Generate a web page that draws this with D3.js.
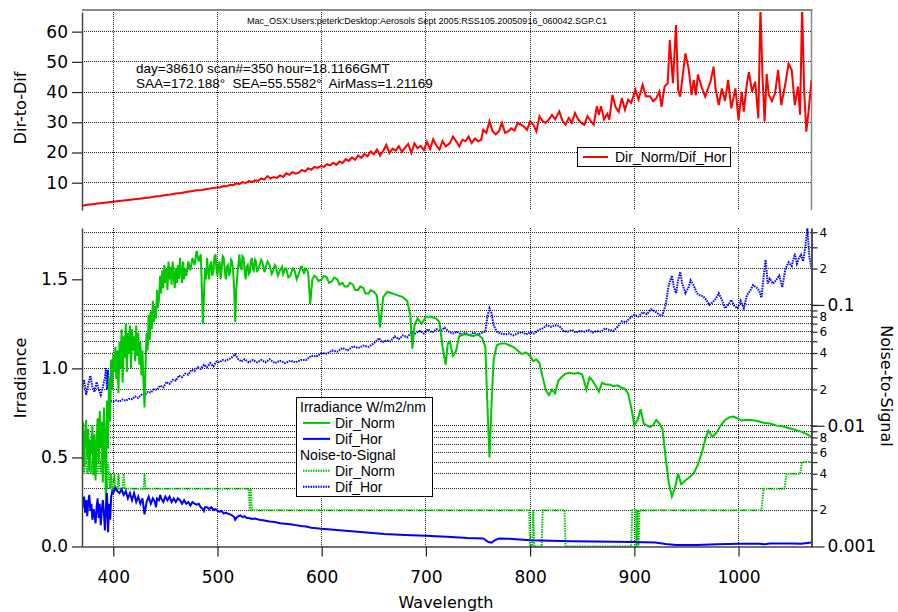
<!DOCTYPE html>
<html>
<head>
<meta charset="utf-8">
<script src="https://cdnjs.cloudflare.com/ajax/libs/d3/7.8.5/d3.min.js"></script>
<style>
  body { margin: 0; background: #fff; }
  svg text { font-family: "DejaVu Sans", sans-serif; fill: #000; }
  .small { font-family: "Liberation Sans", Arial, sans-serif; }
  .grid line { stroke: #222; stroke-dasharray: 1,1; shape-rendering: crispEdges; }
</style>
</head>
<body>
<div id="chart"></div>
<script>
// ticks
var wlTicks = [400, 500, 600, 700, 800, 900, 1000];
var ratioTicks = [10, 20, 30, 40, 50, 60];
var irrTicks = [0, 0.5, 1.0, 1.5];
var nsMajor = [0.001, 0.01, 0.1];

// Dir_Norm / Dif_Hor ratio  [nm, ratio]
var ratio = [[370,2.4],[375,2.7],[380,2.9],[385,3.1],[390,3.3],[395,3.5],[400,3.7],[405,3.9],[410,4.1],[415,4.3],[420,4.5],[425,4.7],[430,4.9],[435,5.1],[440,5.4],[445,5.6],[450,5.9],[455,6.1],[460,6.4],[465,6.6],[470,6.9],[475,7.2],[480,7.5],[485,7.6],[490,7.9],[495,8.2],[500,8.4],[503,8.5],[506,8.9],[509,8.8],[512,9.3],[515,9.2],[518,9.8],[521,9.5],[524,10.2],[527,9.9],[530,10.5],[533,10.2],[536,10.8],[539,10.6],[542,11.4],[545,11.0],[548,12.2],[551,11.4],[554,11.9],[557,11.6],[560,12.4],[563,11.9],[566,13.1],[569,12.6],[572,13.5],[575,13.0],[578,13.3],[581,14.2],[584,13.7],[587,14.8],[590,14.3],[593,15.2],[596,14.9],[599,15.5],[602,15.2],[605,16.1],[608,15.7],[611,16.6],[614,15.9],[617,17.0],[620,16.5],[623,17.8],[626,17.2],[629,18.4],[632,17.6],[635,19.0],[638,18.2],[641,19.5],[644,18.7],[647,20.3],[650,19.4],[653,21.0],[656,19.0],[659,20.5],[662,22.5],[665,19.8],[668,21.3],[671,20.6],[674,22.1],[677,20.2],[680,21.6],[683,22.8],[686,19.8],[689,23.0],[692,21.4],[695,22.2],[698,20.8],[701,23.5],[704,21.2],[707,24.4],[710,22.3],[713,21.0],[716,23.8],[719,22.0],[723,23.1],[726,25.3],[729,23.7],[732,22.0],[735,24.2],[738,23.7],[741,25.3],[744,23.1],[747,24.6],[750,23.7],[753,24.2],[755,27.5],[758,26.5],[761,30.3],[764,27.0],[767,26.0],[770,27.0],[773,29.8],[776,26.5],[779,27.0],[782,28.0],[785,27.2],[788,29.8],[791,29.2],[794,28.6],[797,27.5],[800,30.3],[803,29.2],[806,27.0],[809,32.0],[812,30.4],[815,29.8],[818,30.9],[821,32.5],[824,31.0],[828,33.6],[831,30.5],[834,29.2],[837,31.4],[840,29.8],[843,33.1],[846,31.0],[849,29.8],[852,29.2],[855,32.0],[858,30.5],[861,29.2],[864,35.3],[866,32.5],[868,35.3],[871,31.0],[874,32.8],[876,30.9],[879,39.1],[882,35.0],[885,33.5],[888,38.0],[891,34.1],[894,37.5],[897,36.4],[901,40.8],[904,37.5],[908,42.4],[911,38.6],[915,38.6],[918,37.0],[921,38.0],[924,40.2],[926,35.1],[929,41.8],[932,42.9],[934,57.2],[937,42.9],[940,62.2],[942,40.7],[944,38.5],[949,52.8],[952,47.9],[955,39.0],[957,44.0],[959,39.0],[961,45.8],[965,41.2],[968,38.5],[973,43.4],[976,48.4],[978,41.0],[981,35.7],[984,41.2],[987,37.0],[990,44.0],[993,34.6],[997,41.2],[1000,30.7],[1003,40.1],[1005,33.5],[1008,42.9],[1010,46.6],[1013,40.1],[1016,43.4],[1019,31.3],[1021,68],[1023,45.0],[1025,30.2],[1027,46.0],[1029,39.0],[1032,37.0],[1035,39.6],[1038,47.3],[1041,35.7],[1045,42.9],[1048,49.5],[1051,47.3],[1054,35.7],[1057,41.8],[1059,32.5],[1061,68],[1063,40.0],[1065,26.9],[1067,33.0],[1070,44.0]];

// Irradiance W/m2/nm, direct normal  [nm, value]
var dirNorm = [[370,0.64],[371,0.70],[372,0.45],[373,0.62],[374,0.71],[375,0.49],[376,0.66],[377,0.42],[378,0.60],[379,0.52],[380,0.68],[381,0.40],[382,0.63],[383,0.37],[384,0.58],[385,0.72],[386,0.48],[387,0.76],[388,0.55],[389,0.70],[390,0.36],[391,0.78],[392,0.62],[393,0.22],[394,0.82],[395,0.55],[396,0.95],[397,0.70],[398,1.05],[399,0.88],[400,1.08],[401,0.98],[402,1.12],[403,0.94],[404,1.10],[405,0.86],[406,1.15],[407,1.00],[408,1.22],[409,0.92],[410,1.18],[411,1.06],[412,1.25],[413,0.98],[414,1.20],[415,1.08],[416,1.24],[417,1.00],[418,1.22],[419,1.10],[420,1.18],[421,1.04],[422,1.24],[423,1.07],[424,1.20],[425,1.02],[426,1.15],[427,0.96],[428,1.10],[429,0.92],[430,0.78],[431,1.02],[432,1.20],[433,1.10],[434,1.30],[435,1.16],[436,1.32],[437,1.22],[438,1.38],[439,1.26],[440,1.35],[441,1.28],[442,1.44],[443,1.34],[444,1.40],[445,1.52],[446,1.42],[447,1.55],[448,1.45],[449,1.58],[450,1.48],[451,1.56],[452,1.44],[453,1.60],[454,1.50],[455,1.57],[456,1.47],[457,1.60],[458,1.52],[459,1.45],[460,1.56],[461,1.48],[462,1.58],[463,1.50],[464,1.62],[465,1.54],[466,1.48],[467,1.60],[468,1.50],[469,1.56],[470,1.52],[472,1.60],[474,1.55],[476,1.62],[478,1.58],[480,1.66],[482,1.60],[484,1.64],[486,1.25],[488,1.56],[489,1.50],[490,1.62],[491,1.55],[492,1.50],[493,1.58],[494,1.60],[495,1.52],[496,1.54],[497,1.62],[498,1.64],[499,1.56],[500,1.52],[501,1.58],[502,1.60],[503,1.50],[504,1.56],[505,1.63],[506,1.62],[507,1.55],[508,1.50],[509,1.57],[510,1.58],[511,1.52],[512,1.54],[513,1.61],[514,1.60],[515,1.55],[516,1.45],[517,1.26],[518,1.44],[519,1.52],[520,1.58],[521,1.64],[522,1.57],[523,1.56],[524,1.63],[525,1.62],[526,1.55],[527,1.50],[528,1.57],[529,1.58],[530,1.53],[531,1.54],[532,1.60],[533,1.62],[534,1.56],[535,1.55],[536,1.61],[537,1.60],[538,1.54],[540,1.57],[542,1.61],[543,1.60],[545,1.54],[546,1.56],[548,1.60],[550,1.58],[552,1.53],[553,1.54],[555,1.58],[556,1.57],[558,1.52],[560,1.55],[562,1.57],[563,1.53],[565,1.56],[566,1.56],[568,1.51],[570,1.52],[572,1.56],[574,1.55],[576,1.50],[578,1.53],[580,1.57],[581,1.57],[583,1.53],[584,1.56],[586,1.55],[587,1.54],[589,1.36],[591,1.50],[593,1.52],[595,1.51],[597,1.49],[600,1.50],[602,1.52],[605,1.51],[607,1.48],[610,1.49],[612,1.51],[615,1.50],[617,1.47],[620,1.48],[622,1.46],[625,1.46],[627,1.48],[630,1.47],[632,1.44],[635,1.44],[637,1.46],[640,1.45],[642,1.42],[645,1.42],[647,1.44],[650,1.43],[653,1.41],[656,1.23],[659,1.40],[663,1.43],[668,1.42],[673,1.41],[678,1.40],[682,1.38],[685,1.30],[687,1.11],[689,1.24],[692,1.28],[696,1.25],[700,1.29],[705,1.29],[710,1.28],[713,1.26],[716,1.12],[719,1.02],[721,1.14],[723,1.15],[726,1.07],[729,1.10],[732,1.18],[736,1.19],[740,1.19],[745,1.18],[750,1.19],[754,1.17],[757,1.12],[759,0.80],[761,0.50],[763,0.80],[765,1.05],[768,1.13],[772,1.14],[776,1.14],[780,1.13],[784,1.12],[788,1.10],[792,1.08],[796,1.09],[800,1.07],[803,1.04],[806,1.05],[809,1.03],[812,0.95],[815,0.88],[818,0.85],[821,0.88],[824,0.86],[827,0.93],[830,0.95],[834,0.97],[838,0.975],[842,0.97],[846,0.975],[850,0.965],[854,0.88],[857,0.95],[860,0.93],[863,0.90],[866,0.87],[869,0.92],[872,0.91],[876,0.91],[880,0.90],[884,0.905],[888,0.89],[891,0.885],[894,0.86],[897,0.78],[900,0.68],[903,0.71],[906,0.77],[909,0.69],[912,0.68],[915,0.67],[918,0.68],[921,0.71],[924,0.69],[927,0.66],[930,0.50],[933,0.36],[936,0.28],[939,0.33],[942,0.41],[945,0.35],[949,0.37],[953,0.39],[957,0.41],[961,0.46],[965,0.53],[968,0.60],[971,0.65],[975,0.615],[979,0.64],[983,0.68],[987,0.71],[991,0.725],[995,0.73],[999,0.72],[1003,0.707],[1007,0.71],[1012,0.71],[1018,0.705],[1024,0.695],[1030,0.69],[1036,0.68],[1042,0.675],[1048,0.665],[1054,0.655],[1060,0.645],[1066,0.63],[1070,0.614]];

// Irradiance W/m2/nm, diffuse horizontal
var difHor = [[370,0.27],[371,0.22],[372,0.28],[373,0.19],[374,0.26],[375,0.17],[376,0.25],[377,0.29],[378,0.20],[379,0.24],[380,0.15],[381,0.21],[382,0.18],[383,0.13],[384,0.22],[385,0.27],[386,0.16],[387,0.24],[388,0.12],[389,0.20],[390,0.26],[391,0.19],[392,0.09],[393,0.22],[394,0.30],[395,0.08],[396,0.24],[397,0.15],[398,0.28],[399,0.31],[400,0.30],[402,0.33],[404,0.31],[406,0.30],[408,0.32],[410,0.29],[412,0.31],[414,0.27],[416,0.30],[418,0.26],[420,0.30],[422,0.25],[424,0.28],[426,0.24],[428,0.27],[430,0.18],[432,0.25],[434,0.28],[436,0.24],[438,0.27],[440,0.25],[441,0.22],[442,0.27],[444,0.26],[445,0.29],[446,0.27],[448,0.25],[450,0.28],[452,0.26],[454,0.28],[456,0.25],[458,0.27],[460,0.25],[462,0.27],[464,0.26],[466,0.24],[468,0.26],[470,0.24],[472,0.25],[474,0.23],[476,0.25],[478,0.24],[480,0.235],[482,0.24],[484,0.22],[486,0.21],[487,0.20],[488,0.22],[490,0.22],[492,0.21],[494,0.22],[496,0.205],[498,0.21],[500,0.20],[502,0.195],[504,0.20],[506,0.185],[508,0.19],[510,0.185],[512,0.18],[514,0.175],[516,0.165],[517,0.15],[518,0.16],[520,0.17],[522,0.175],[524,0.165],[526,0.17],[528,0.16],[530,0.16],[533,0.155],[536,0.157],[540,0.15],[545,0.146],[550,0.14],[555,0.137],[560,0.13],[565,0.128],[570,0.125],[575,0.12],[580,0.115],[585,0.112],[590,0.105],[600,0.10],[620,0.09],[640,0.08],[660,0.07],[680,0.065],[700,0.06],[720,0.055],[740,0.048],[755,0.045],[760,0.025],[763,0.022],[766,0.035],[770,0.045],[780,0.044],[800,0.035],[820,0.032],[840,0.030],[860,0.028],[880,0.027],[900,0.025],[920,0.022],[930,0.014],[940,0.008],[960,0.009],[980,0.013],[1000,0.015],[1020,0.016],[1025,0.013],[1030,0.017],[1050,0.017],[1060,0.015],[1070,0.022]];

// Noise-to-Signal, direct normal
var nsDirNorm = [[370,.005],[371,.006],[372,.004],[373,.006],[374,.005],[375,.004],[376,.006],[377,.005],[378,.006],[379,.004],[380,.005],[381,.006],[382,.004],[383,.005],[384,.006],[385,.004],[386,.006],[387,.005],[388,.004],[389,.006],[390,.004],[391,.005],[392,.006],[393,.004],[394,.003],[395,.005],[396,.004],[397,.003],[398,.004],[399,.003],[400,.003],[401,.004],[402,.003],[404,.003],[405,.004],[406,.003],[409,.003],[410,.004],[411,.003],[429,.003],[430,.004],[431,.003],[530,.003],[531,.002],[532,.003],[533,.002],[799,.002],[800,.001],[802,.001],[803,.002],[804,.001],[811,.001],[812,.002],[833,.002],[834,.001],[897,.001],[898,.002],[901,.002],[902,.001],[903,.002],[904,.001],[905,.002],[1022,.002],[1024,.003],[1044,.003],[1046,.004],[1059,.004],[1061,.005],[1070,.005]];

// Noise-to-Signal, diffuse horizontal
var nsDifHor = [[370,.020],[372,.024],[374,.018],[376,.022],[378,.026],[380,.021],[382,.019],[384,.023],[386,.020],[388,.018],[390,.021],[392,.025],[393,.030],[394,.020],[395,.029],[396,.017],[398,.016],[400,.0158],[403,.0162],[406,.0158],[409,.0165],[412,.0161],[415,.0167],[418,.0166],[421,.0175],[424,.0170],[427,.018],[430,.0178],[433,.019],[436,.0188],[439,.020],[442,.0198],[445,.0215],[448,.0208],[451,.023],[454,.0222],[457,.024],[460,.0236],[463,.026],[466,.0252],[469,.027],[472,.0265],[475,.029],[478,.0285],[481,.0305],[484,.0295],[487,.032],[490,.0305],[493,.033],[496,.031],[499,.034],[502,.0335],[505,.035],[508,.0345],[511,.0355],[514,.037],[517,.039],[520,.0355],[523,.034],[526,.0355],[530,.0335],[534,.035],[538,.0335],[542,.035],[546,.0335],[550,.0355],[555,.033],[560,.0345],[565,.033],[570,.0345],[575,.0335],[580,.035],[585,.035],[590,.038],[595,.0375],[600,.040],[605,.0395],[610,.042],[615,.041],[620,.044],[625,.042],[630,.0455],[635,.044],[640,.046],[645,.045],[650,.048],[655,.053],[658,.049],[662,.051],[666,.050],[670,.055],[674,.052],[678,.056],[682,.054],[686,.059],[690,.058],[694,.061],[698,.058],[702,.063],[706,.059],[710,.063],[714,.061],[718,.065],[722,.060],[726,.058],[730,.060],[734,.057],[738,.059],[742,.056],[746,.059],[750,.057],[754,.059],[757,.060],[759,.080],[761,.094],[763,.085],[765,.068],[768,.060],[772,.058],[776,.057],[780,.058],[784,.056],[788,.058],[792,.060],[796,.057],[800,.059],[804,.058],[808,.062],[812,.064],[816,.068],[820,.066],[824,.068],[828,.067],[832,.061],[836,.060],[840,.062],[844,.059],[848,.061],[852,.060],[856,.062],[860,.059],[864,.061],[868,.060],[872,.064],[876,.062],[880,.061],[884,.066],[888,.073],[892,.072],[896,.078],[900,.083],[904,.080],[908,.087],[912,.084],[916,.092],[920,.088],[924,.083],[927,.082],[930,.100],[933,.145],[936,.175],[938,.140],[940,.125],[942,.160],[944,.188],[946,.150],[949,.125],[952,.140],[954,.160],[957,.145],[960,.125],[963,.120],[966,.118],[969,.110],[972,.100],[975,.105],[978,.112],[981,.125],[984,.110],[987,.094],[990,.100],[993,.110],[996,.098],[999,.094],[1002,.108],[1005,.094],[1008,.120],[1011,.130],[1014,.146],[1017,.140],[1020,.130],[1022,.115],[1024,.170],[1026,.236],[1028,.150],[1030,.165],[1033,.150],[1036,.160],[1039,.175],[1042,.140],[1045,.200],[1048,.225],[1051,.210],[1054,.265],[1056,.220],[1058,.245],[1060,.260],[1062,.230],[1064,.300],[1066,.430],[1068,.250],[1070,.200]];

var RED = "#ff0000", GREEN = "#00c800", BLUE = "#0000ff";

var width = 898, height = 612;
var left = 82, right = 811.5;
var topT = 12, topB = 210, botT = 228, botB = 546.5;

var svg = d3.select("#chart").append("svg")
    .attr("width", width)
    .attr("height", height);

var x = d3.scaleLinear().domain([370, 1070]).range([left, right]);
var yRatio = d3.scaleLinear().domain([0.96, 66.5]).range([topB, topT]);
var yIrr = d3.scaleLinear().domain([0, 1.788]).range([botB, botT]);
var yNS = d3.scaleLog().domain([0.001, 0.4335]).range([botB, botT]);

// log grid values for the right axis
var nsGrid = [];
[0.001, 0.01, 0.1].forEach(function(dec) {
  for (var k = 1; k <= 9; k++) {
    var v = +(k * dec).toPrecision(3);
    if (v > 0.001 && v <= 0.4335) nsGrid.push(v);
  }
});

svg.append("defs").append("clipPath").attr("id", "clipTop")
  .append("rect").attr("x", left).attr("y", topT).attr("width", right - left).attr("height", topB - topT);
svg.select("defs").append("clipPath").attr("id", "clipBot")
  .append("rect").attr("x", left).attr("y", botT).attr("width", right - left).attr("height", botB - botT + 1);

// grids
var grid = svg.append("g").attr("class", "grid");
grid.selectAll(".vt").data(wlTicks).enter().append("line")
    .attr("x1", function(d) { return x(d); }).attr("x2", function(d) { return x(d); })
    .attr("y1", topT).attr("y2", topB);
grid.selectAll(".vb").data(wlTicks).enter().append("line")
    .attr("x1", function(d) { return x(d); }).attr("x2", function(d) { return x(d); })
    .attr("y1", botT).attr("y2", botB);
grid.selectAll(".ht").data(ratioTicks).enter().append("line")
    .attr("x1", left).attr("x2", right)
    .attr("y1", function(d) { return yRatio(d); }).attr("y2", function(d) { return yRatio(d); });
grid.selectAll(".hb").data(nsGrid).enter().append("line")
    .attr("x1", left).attr("x2", right)
    .attr("y1", function(d) { return yNS(d); }).attr("y2", function(d) { return yNS(d); });

// frame of the top panel
svg.append("line").attr("x1", left).attr("x2", right + 1).attr("y1", 10).attr("y2", 10)
    .attr("stroke", "#888").attr("stroke-width", 2);
svg.append("line").attr("x1", right).attr("x2", right).attr("y1", 11).attr("y2", topB)
    .attr("stroke", "#888").attr("stroke-width", 1.5);

// series
var lineRatio = d3.line().x(function(d) { return x(d[0]); }).y(function(d) { return yRatio(d[1]); });
var lineIrr = d3.line().x(function(d) { return x(d[0]); }).y(function(d) { return yIrr(d[1]); });
var lineNS = d3.line().x(function(d) { return x(d[0]); }).y(function(d) { return yNS(d[1]); });

svg.append("path").datum(ratio)
    .attr("clip-path", "url(#clipTop)")
    .attr("d", lineRatio).attr("fill", "none").attr("stroke", RED).attr("stroke-width", 2);

var bot = svg.append("g").attr("clip-path", "url(#clipBot)");
bot.append("path").datum(nsDirNorm).attr("d", lineNS)
    .attr("fill", "none").attr("stroke", GREEN).attr("stroke-width", 2).attr("stroke-dasharray", "1.5,1");
bot.append("path").datum(nsDifHor).attr("d", lineNS)
    .attr("fill", "none").attr("stroke", BLUE).attr("stroke-width", 2).attr("stroke-dasharray", "1.5,1");
bot.append("path").datum(dirNorm).attr("d", lineIrr)
    .attr("fill", "none").attr("stroke", GREEN).attr("stroke-width", 2);
bot.append("path").datum(difHor).attr("d", lineIrr)
    .attr("fill", "none").attr("stroke", BLUE).attr("stroke-width", 2);

// axes
function styleAxis(g, size) {
  g.attr("font-family", "DejaVu Sans, sans-serif").attr("font-size", size);
  g.selectAll("path.domain").attr("stroke", "#444").attr("stroke-width", 1.5);
  g.selectAll(".tick line").attr("stroke", "#222").attr("stroke-width", 1.2);
  g.selectAll(".tick text").attr("fill", "#000");
}

svg.append("g").attr("transform", "translate(" + left + ",0)")
    .call(d3.axisLeft(yRatio).tickValues(ratioTicks).tickSize(10).tickSizeOuter(0).tickPadding(4))
    .call(styleAxis, 17);

svg.append("g").attr("transform", "translate(" + left + ",0)")
    .call(d3.axisLeft(yIrr).tickValues(irrTicks).tickSize(10).tickSizeOuter(0).tickPadding(4)
      .tickFormat(d3.format(".1f")))
    .call(styleAxis, 17);

svg.append("g").attr("transform", "translate(0," + botB + ")")
    .call(d3.axisBottom(x).tickValues(wlTicks).tickSize(10).tickSizeOuter(0).tickPadding(14)
      .tickFormat(d3.format("d")))
    .call(styleAxis, 17);

// right log axis: minor ticks with small labels, then major ticks
var minorLabel = function(d) {
  var m = Math.round(d / Math.pow(10, Math.floor(Math.log10(d) + 1e-9)));
  return (m % 2 === 0) ? String(m) : "";
};
svg.append("g").attr("transform", "translate(" + right + ",0)")
    .call(d3.axisRight(yNS).tickValues(nsGrid).tickSize(6).tickSizeOuter(0).tickPadding(2)
      .tickFormat(minorLabel))
    .call(styleAxis, 12);
svg.append("g").attr("transform", "translate(" + right + ",0)")
    .call(d3.axisRight(yNS).tickValues(nsMajor).tickSize(13).tickSizeOuter(0).tickPadding(3)
      .tickFormat(function(d) { return String(d); }))
    .call(styleAxis, 17);

// axis titles
svg.append("text").attr("transform", "translate(20,108) rotate(-90)")
    .attr("text-anchor", "middle").attr("dy", "0.35em").attr("font-size", 16).text("Dir-to-Dif");
svg.append("text").attr("transform", "translate(20,378) rotate(-90)")
    .attr("text-anchor", "middle").attr("dy", "0.35em").attr("font-size", 16).text("Irradiance");
svg.append("text").attr("transform", "translate(887,386) rotate(90)")
    .attr("text-anchor", "middle").attr("dy", "0.35em").attr("font-size", 16).text("Noise-to-Signal");
svg.append("text").attr("x", 446).attr("y", 608)
    .attr("text-anchor", "middle").attr("font-size", 16).text("Wavelength");

// file name and scan info
svg.append("text").attr("class", "small").attr("x", 247).attr("y", 24)
    .attr("font-size", 9).attr("textLength", 360).attr("lengthAdjust", "spacingAndGlyphs")
    .text("Mac_OSX:Users:peterk:Desktop:Aerosols Sept 2005:RSS105.20050916_060042.SGP.C1");
svg.append("text").attr("class", "small").attr("x", 136).attr("y", 73).attr("font-size", 13.5)
    .text("day=38610 scan#=350 hour=18.1166GMT");
svg.append("text").attr("class", "small").attr("x", 136).attr("y", 87.5).attr("font-size", 13.5)
    .attr("xml:space", "preserve").style("white-space", "pre")
    .text("SAA=172.188°  SEA=55.5582°  AirMass=1.21169");

// top legend
var lg1 = svg.append("g");
lg1.append("rect").attr("x", 577.5).attr("y", 147.5).attr("width", 153).attr("height", 19)
    .attr("fill", "#fff").attr("stroke", "#000").attr("stroke-width", 1);
lg1.append("line").attr("x1", 583).attr("x2", 608).attr("y1", 157).attr("y2", 157)
    .attr("stroke", RED).attr("stroke-width", 2);
lg1.append("text").attr("class", "small").attr("x", 615).attr("y", 157).attr("dy", "0.35em")
    .attr("font-size", 14).text("Dir_Norm/Dif_Hor");

// bottom legend
var legendRows = [
  { label: "Irradiance W/m2/nm", head: true },
  { label: "Dir_Norm", color: GREEN, dash: null },
  { label: "Dif_Hor", color: BLUE, dash: null },
  { label: "Noise-to-Signal", head: true },
  { label: "Dir_Norm", color: GREEN, dash: "1.5,1" },
  { label: "Dif_Hor", color: BLUE, dash: "1.5,1" }
];
var lg2 = svg.append("g");
lg2.append("rect").attr("x", 296.5).attr("y", 397.5).attr("width", 136).attr("height", 99)
    .attr("fill", "#fff").attr("stroke", "#000").attr("stroke-width", 1);
var rowY = d3.scaleLinear().domain([0, 5]).range([407, 486.7]);
legendRows.forEach(function(r, i) {
  var yy = rowY(i);
  if (r.head) {
    lg2.append("text").attr("class", "small").attr("x", 300).attr("y", yy).attr("dy", "0.35em")
        .attr("font-size", 14).text(r.label);
  } else {
    lg2.append("line").attr("x1", 303).attr("x2", 330).attr("y1", yy).attr("y2", yy)
        .attr("stroke", r.color).attr("stroke-width", 2).attr("stroke-dasharray", r.dash);
    lg2.append("text").attr("class", "small").attr("x", 335).attr("y", yy).attr("dy", "0.35em")
        .attr("font-size", 14).text(r.label);
  }
});
</script>
</body>
</html>
